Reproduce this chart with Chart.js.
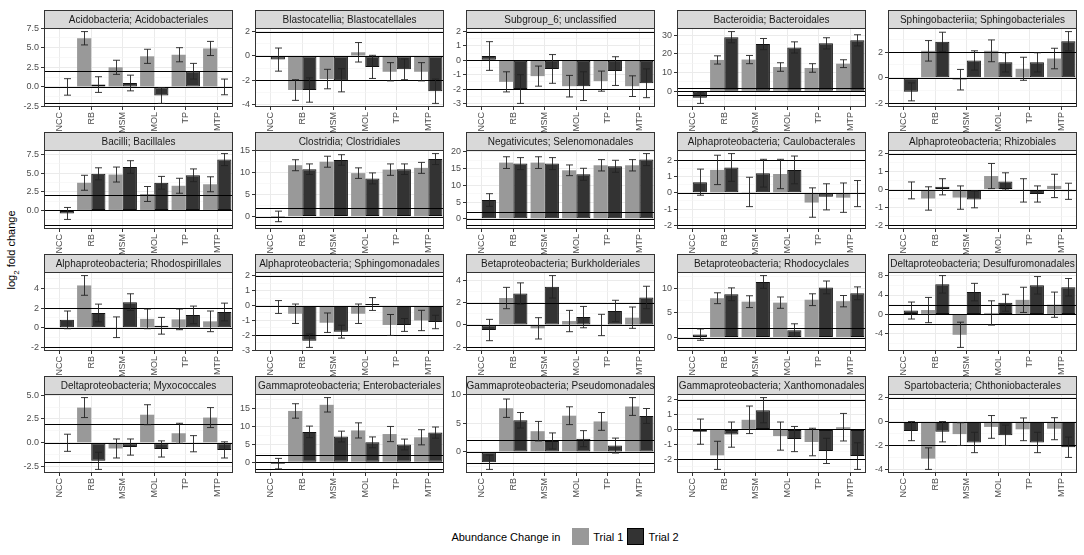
<!DOCTYPE html>
<html>
<head>
<meta charset="utf-8">
<script src="https://cdn.jsdelivr.net/npm/chart.js@4.4.1/dist/chart.umd.min.js"></script>
<style>
  body { margin: 0; background: #fff; width: 1084px; height: 555px; position: relative; overflow: hidden;
         font-family: 'Liberation Sans', Arial, sans-serif; }
  canvas { position: absolute; }
  #ytitle { position: absolute; left: 13px; top: 250px; transform: translate(-50%, -50%) rotate(-90deg);
            font-size: 11px; white-space: nowrap; color: #000; }
  #legend { position: absolute; top: 528px; left: 0; width: 1084px; padding-left: 46px; box-sizing: border-box;
            display: flex; justify-content: center; align-items: center; font-size: 11px; color: #000; }
  .key { width: 17px; height: 17px; box-sizing: border-box; margin: 0 4px 0 8px; }
</style>
</head>
<body>
<div id="ytitle">log<sub style="font-size:8px">2</sub> fold change</div>
<div id="legend">
  <span>Abundance Change in</span>
  <span class="key" style="background:#999999; margin-left:12px"></span><span>Trial 1</span>
  <span class="key" style="background:#333333; border:1px solid #000; margin-left:4px"></span><span>Trial 2</span>
</div>
<script>
// categories along each x axis
const categories = ['NCC', 'RB', 'MSM', 'MOL', 'TP', 'MTP'];

// facet titles, row by row
const panelTitles = [
  'Acidobacteria; Acidobacteriales', 'Blastocatellia; Blastocatellales', 'Subgroup_6; unclassified',
  'Bacteroidia; Bacteroidales', 'Sphingobacteriia; Sphingobacteriales',
  'Bacilli; Bacillales', 'Clostridia; Clostridiales', 'Negativicutes; Selenomonadales',
  'Alphaproteobacteria; Caulobacterales', 'Alphaproteobacteria; Rhizobiales',
  'Alphaproteobacteria; Rhodospirillales', 'Alphaproteobacteria; Sphingomonadales',
  'Betaproteobacteria; Burkholderiales', 'Betaproteobacteria; Rhodocyclales',
  'Deltaproteobacteria; Desulfuromonadales',
  'Deltaproteobacteria; Myxococcales', 'Gammaproteobacteria; Enterobacteriales',
  'Gammaproteobacteria; Pseudomonadales', 'Gammaproteobacteria; Xanthomonadales',
  'Spartobacteria; Chthoniobacterales'
];

// log2 fold change, Trial 1 (one row per panel)
const trial1 = [
  [null, 6.2, 2.5, 3.9, 4.1, 4.9],
  [null, -2.8, -1.9, 0.3, -1.3, -1.3],
  [null, -1.5, -1.1, -1.8, -1.45, -1.8],
  [null, 16.8, 17.0, 13.0, 12.5, 14.8],
  [null, 2.1, -0.15, 2.1, 0.7, 1.5],
  [null, 3.7, 4.8, 2.2, 3.3, 3.5],
  [null, 11.7, 12.5, 9.9, 10.7, 11.1],
  [null, 16.8, 16.8, 14.5, 16.0, 16.0],
  [null, 1.4, 0.05, 1.15, -0.6, -0.3],
  [null, -0.5, -0.45, 0.75, -0.05, 0.2],
  [null, 4.3, 0.05, 0.9, 0.85, 0.65],
  [null, -0.55, -1.15, -0.55, -1.3, -1.0],
  [null, 2.4, -0.3, 0.35, 0.0, 0.65],
  [null, 8.0, 7.3, 7.1, 7.7, 7.4],
  [null, 0.9, -4.2, 0.3, 3.0, 2.0],
  [null, 3.7, -0.6, 2.95, 1.0, 2.65],
  [null, 14.2, 15.9, 8.8, 7.8, 6.9],
  [null, 7.6, 3.6, 6.3, 5.3, 7.9],
  [null, -1.75, 0.65, -0.45, -0.85, 0.15],
  [null, -3.1, -1.05, -0.45, -0.65, -0.6]
];
const trial1Err = [
  [null, 0.85, 0.9, 0.9, 0.9, 0.9],
  [null, 0.85, 0.8, 0.8, 0.75, 0.75],
  [null, 0.7, 0.7, 0.75, 0.7, 0.72],
  [null, 2.2, 2.2, 2.3, 2.3, 2.1],
  [null, 0.8, 0.8, 0.85, 0.9, 0.8],
  [null, 1.0, 1.0, 1.0, 1.0, 1.0],
  [null, 1.25, 1.25, 1.2, 1.3, 1.25],
  [null, 1.75, 1.75, 1.6, 1.7, 1.7],
  [null, 0.9, 0.9, 0.9, 0.9, 0.9],
  [null, 0.65, 0.65, 0.7, 0.65, 0.65],
  [null, 1.0, 1.05, 1.0, 1.05, 1.05],
  [null, 0.65, 0.65, 0.65, 0.7, 0.68],
  [null, 0.95, 0.95, 0.95, 0.95, 0.95],
  [null, 1.1, 1.2, 1.15, 1.2, 1.15],
  [null, 2.6, 2.6, 2.5, 2.6, 2.6],
  [null, 1.05, 1.0, 1.05, 1.05, 1.05],
  [null, 2.0, 2.0, 2.1, 2.1, 2.1],
  [null, 1.6, 1.7, 1.55, 1.55, 1.55],
  [null, 0.95, 0.93, 0.95, 0.93, 0.93],
  [null, 0.9, 0.95, 0.95, 0.95, 0.92]
];

// log2 fold change, Trial 2
const trial2 = [
  [0.0, 0.3, 0.5, -1.1, 2.0, 0.0],
  [-0.3, -2.8, -2.0, -0.9, -1.1, -2.9],
  [0.3, -2.0, -0.6, -1.8, -0.75, -1.6],
  [-3.5, 29.0, 25.3, 23.5, 25.7, 27.3],
  [-1.1, 2.8, 1.35, 1.2, 1.2, 2.85],
  [-0.4, 4.9, 5.8, 3.7, 4.7, 6.8],
  [0.05, 10.8, 12.9, 8.7, 10.8, 13.1],
  [5.6, 16.5, 16.5, 13.3, 15.7, 17.7],
  [0.65, 1.55, 1.2, 1.4, -0.25, -0.05],
  [-0.05, 0.15, -0.55, 0.45, -0.25, -0.1],
  [0.8, 1.5, 2.6, 0.2, 1.3, 1.6],
  [-0.1, -2.35, -1.75, 0.1, -1.3, -1.1],
  [-0.45, 2.8, 3.4, 0.7, 1.25, 2.45],
  [0.6, 8.8, 11.3, 1.5, 10.2, 9.0],
  [0.8, 6.2, 4.6, 2.4, 6.0, 5.6],
  [0.0, -1.9, -0.45, -0.65, -0.1, -0.75],
  [-0.4, 8.4, 7.1, 5.5, 4.9, 8.2],
  [-1.8, 5.5, 1.9, 2.3, 1.1, 6.25],
  [-0.15, -0.35, 1.3, -0.65, -1.45, -1.8],
  [-0.8, -0.85, -1.75, -1.15, -1.75, -2.15]
];
const trial2Err = [
  [1.05, 1.0, 1.0, 1.0, 1.0, 1.0],
  [0.95, 1.0, 0.95, 0.95, 0.85, 1.0],
  [1.0, 1.0, 1.0, 1.0, 1.0, 1.0],
  [3.0, 3.0, 3.0, 3.0, 3.0, 3.0],
  [0.7, 0.75, 0.75, 0.75, 0.75, 0.75],
  [0.8, 0.8, 0.85, 0.85, 0.85, 0.8],
  [1.2, 1.2, 1.2, 1.25, 1.2, 1.25],
  [1.9, 1.8, 1.8, 1.8, 1.8, 1.8],
  [0.8, 0.85, 0.85, 0.85, 0.8, 0.8],
  [0.47, 0.45, 0.47, 0.48, 0.45, 0.45],
  [0.9, 0.9, 0.85, 0.85, 0.9, 0.9],
  [0.43, 0.45, 0.43, 0.43, 0.43, 0.45],
  [0.95, 0.95, 1.0, 0.95, 0.95, 1.0],
  [1.15, 1.3, 1.3, 1.3, 1.3, 1.3],
  [1.75, 1.8, 1.8, 1.75, 1.8, 1.8],
  [0.9, 0.9, 0.85, 0.85, 0.85, 0.85],
  [1.45, 1.6, 1.5, 1.5, 1.5, 1.55],
  [1.25, 1.35, 1.4, 1.4, 1.3, 1.3],
  [0.85, 0.85, 0.85, 0.85, 0.85, 0.9],
  [0.8, 0.85, 0.85, 0.85, 0.85, 0.85]
];

// major y breaks per panel
const yTicks = [
  [-2.5, 0, 2.5, 5, 7.5], [-4, -2, 0, 2], [-3, -2, -1, 0, 1, 2], [0, 10, 20, 30], [-2, 0, 2],
  [0, 2.5, 5, 7.5], [0, 5, 10, 15], [0, 5, 10, 15, 20], [-2, -1, 0, 1, 2], [-2, -1, 0, 1, 2],
  [-2, 0, 2, 4], [-3, -2, -1, 0, 1, 2], [-2, 0, 2, 4], [0, 5, 10], [-4, 0, 4, 8],
  [-2.5, 0, 2.5, 5], [0, 5, 10, 15], [0, 5, 10], [-2, -1, 0, 1, 2], [-4, -2, 0, 2]
];

// horizontal reference lines
const refLines = [-2, 0, 2];

const COL_LEFT = [44, 255, 466, 677, 888];
const ROW_TOP = [9, 131, 253, 375];
const PLOT_W = 189, PLOT_H = 79, STRIP_H = 19, YAXIS_W = 30, XAXIS_H = 28, PAD_R = 8;
const FONT = "'Liberation Sans', Arial, sans-serif";

function buildTicks(major, min, max) {
  const step = major[1] - major[0];
  const out = [];
  for (let i = -1; i < major.length; i++) {
    const m = i < 0 ? major[0] - step : major[i];
    if (i >= 0 && m >= min && m <= max) out.push({ value: m, isMinor: false });
    const h = m + step / 2;
    if (h >= min && h <= max) out.push({ value: h, isMinor: true });
  }
  return out.sort((a, b) => a.value - b.value);
}

const decorPlugin = {
  id: 'decor',
  afterDatasetsDraw(chart, args, opts) {
    const ctx = chart.ctx, a = chart.chartArea, y = chart.scales.y;
    ctx.save();
    // reference lines
    ctx.strokeStyle = '#000';
    ctx.lineWidth = 1.2;
    refLines.forEach(v => {
      const py = Math.round(y.getPixelForValue(v)) + 0.5;
      ctx.beginPath(); ctx.moveTo(a.left, py); ctx.lineTo(a.right, py); ctx.stroke();
    });
    // error bars
    ctx.strokeStyle = '#222';
    ctx.lineWidth = 0.9;
    [opts.err1, opts.err2].forEach((errs, di) => {
      const meta = chart.getDatasetMeta(di);
      const vals = chart.data.datasets[di].data;
      meta.data.forEach((bar, j) => {
        if (vals[j] === null || errs[j] === null) return;
        const x = Math.round(bar.x) + 0.5;
        const top = y.getPixelForValue(vals[j] + errs[j]);
        const bot = y.getPixelForValue(vals[j] - errs[j]);
        ctx.beginPath();
        ctx.moveTo(x, top); ctx.lineTo(x, bot);
        ctx.moveTo(x - 3.5, top); ctx.lineTo(x + 3.5, top);
        ctx.moveTo(x - 3.5, bot); ctx.lineTo(x + 3.5, bot);
        ctx.stroke();
      });
    });
    ctx.restore();
  },
  afterDraw(chart, args, opts) {
    const ctx = chart.ctx, a = chart.chartArea;
    const w = a.right - a.left, h = a.bottom - a.top;
    ctx.save();
    ctx.strokeStyle = '#333';
    ctx.lineWidth = 1;
    ctx.strokeRect(Math.round(a.left) + 0.5, Math.round(a.top) + 0.5, Math.round(w) - 1, Math.round(h) - 1);
    // facet strip
    const st = Math.round(a.top) - STRIP_H + 1;
    ctx.fillStyle = '#d9d9d9';
    ctx.fillRect(Math.round(a.left), st, Math.round(w), STRIP_H);
    ctx.strokeRect(Math.round(a.left) + 0.5, st + 0.5, Math.round(w) - 1, STRIP_H - 1);
    ctx.fillStyle = '#1a1a1a';
    ctx.font = '10px ' + FONT;
    ctx.textAlign = 'center';
    ctx.textBaseline = 'middle';
    ctx.fillText(opts.title, a.left + w / 2, st + STRIP_H / 2 + 0.5);
    ctx.restore();
  }
};

panelTitles.forEach((title, p) => {
  const row = Math.floor(p / 5), col = p % 5;
  const canvas = document.createElement('canvas');
  const cw = YAXIS_W + PLOT_W + PAD_R, ch = STRIP_H + PLOT_H + XAXIS_H;
  canvas.width = cw; canvas.height = ch;
  canvas.style.width = cw + 'px'; canvas.style.height = ch + 'px';
  canvas.style.left = (COL_LEFT[col] - YAXIS_W) + 'px';
  canvas.style.top = ROW_TOP[row] + 'px';
  document.body.appendChild(canvas);

  // y range: data with error bars plus reference lines, expanded 5%
  let lo = Math.min(...refLines), hi = Math.max(...refLines);
  [[trial1[p], trial1Err[p]], [trial2[p], trial2Err[p]]].forEach(([v, e]) => {
    v.forEach((val, j) => {
      if (val === null) return;
      lo = Math.min(lo, val - e[j]); hi = Math.max(hi, val + e[j]);
    });
  });
  const pad = (hi - lo) * 0.05;
  const yMin = lo - pad, yMax = hi + pad;
  const major = yTicks[p];
  const decimals = major.some(v => !Number.isInteger(v)) ? 1 : 0;

  new Chart(canvas, {
    type: 'bar',
    data: {
      labels: categories,
      datasets: [
        { label: 'Trial 1', data: trial1[p], backgroundColor: '#999999', borderWidth: 0,
          categoryPercentage: 0.9, barPercentage: 1.0 },
        { label: 'Trial 2', data: trial2[p], backgroundColor: '#333333', borderColor: '#111',
          borderWidth: 1, borderSkipped: false, categoryPercentage: 0.9, barPercentage: 1.0 }
      ]
    },
    options: {
      responsive: false,
      animation: false,
      layout: { padding: { top: STRIP_H, right: PAD_R, left: 0, bottom: 0 } },
      plugins: {
        legend: { display: false },
        tooltip: { enabled: false },
        decor: { title: title, err1: trial1Err[p], err2: trial2Err[p] }
      },
      scales: {
        x: {
          border: { display: false },
          grid: { offset: false, color: '#ebebeb', lineWidth: 1, tickColor: '#333', tickLength: 3 },
          ticks: { minRotation: 90, maxRotation: 90, autoSkip: false, padding: 2, color: '#4d4d4d',
                   font: { family: FONT, size: 9 } },
          afterFit: s => { s.height = XAXIS_H; }
        },
        y: {
          min: yMin, max: yMax,
          border: { display: false },
          afterBuildTicks: s => { s.ticks = buildTicks(major, yMin, yMax); },
          grid: {
            color: c => (c.tick && c.tick.isMinor ? '#f4f4f4' : '#ebebeb'),
            lineWidth: c => (c.tick && c.tick.isMinor ? 0.6 : 1),
            tickColor: c => (c.tick && c.tick.isMinor ? 'rgba(0,0,0,0)' : '#333'),
            tickLength: 3
          },
          ticks: {
            autoSkip: false, padding: 2, color: '#4d4d4d', font: { family: FONT, size: 9 },
            callback: (v, i, ticks) => (ticks[i].isMinor ? '' : v.toFixed(decimals))
          },
          afterFit: s => { s.width = YAXIS_W; }
        }
      }
    },
    plugins: [decorPlugin]
  });
});
</script>
</body>
</html>
